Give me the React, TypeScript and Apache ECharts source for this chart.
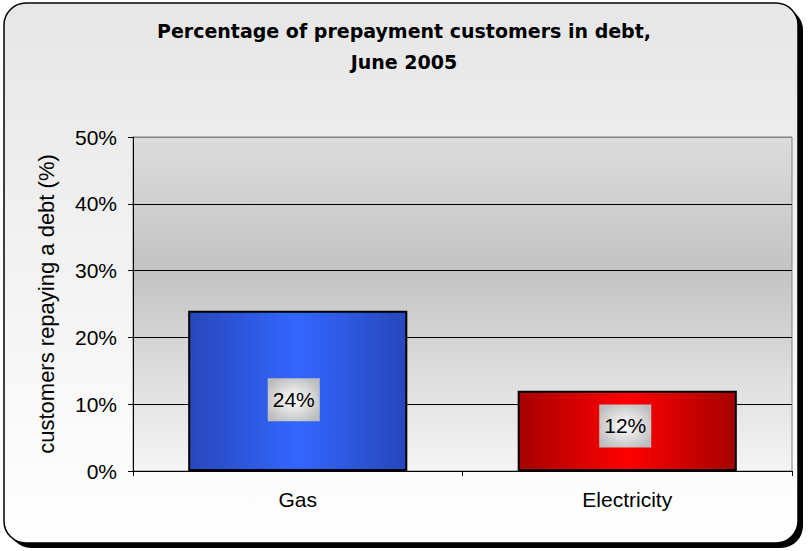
import React, { useEffect, useRef } from "react";
import * as echarts from "echarts";

const titleLines = ["Percentage of prepayment customers in debt,", "June 2005"];
const categories = ["Gas", "Electricity"];
const values = [24, 12];
const yTicks = [0, 10, 20, 30, 40, 50];
const yAxisName = "customers repaying a debt (%)";

const barGradients = [
  ["#2747bb", "#3366ff", "#2747bb"],
  ["#a60000", "#ff0000", "#a60000"],
];
const labelOffsets = [
  [-4, 9],
  [-2, -5],
];

export default function App() {
  const ref = useRef<HTMLDivElement>(null);
  useEffect(() => {
    if (!ref.current) return;
    const chart = echarts.init(ref.current, null, { renderer: "svg" });
    const option: any = {
      animation: false,
      graphic: [
        {
          type: "rect",
          z: -100,
          shape: { x: 9, y: 8, width: 794, height: 540, r: 22 },
          style: { fill: "#000" },
          silent: true,
        },
        {
          type: "rect",
          z: -99,
          shape: { x: 4, y: 3, width: 794, height: 540, r: 22 },
          style: {
            fill: new echarts.graphic.LinearGradient(0, 0, 0, 1, [
              { offset: 0, color: "#e6e6e6" },
              { offset: 1, color: "#ffffff" },
            ]),
            stroke: "#000",
            lineWidth: 1.5,
          },
          silent: true,
        },
      ],
      title: {
        text: titleLines.join("\n"),
        left: "center",
        top: 10,
        textStyle: {
          fontFamily: "DejaVu Sans",
          fontWeight: "bold",
          fontSize: 19,
          lineHeight: 31,
          color: "#000",
        },
      },
      grid: {
        left: 133,
        right: 16,
        top: 137,
        bottom: 80,
        show: true,
        borderColor: "#808080",
        borderWidth: 1,
        backgroundColor: new echarts.graphic.LinearGradient(0, 0, 0, 1, [
          { offset: 0, color: "#dcdcdc" },
          { offset: 0.4, color: "#c3c3c3" },
          { offset: 1, color: "#f5f5f5" },
        ]),
      },
      xAxis: {
        type: "category",
        data: categories,
        axisLine: { show: true, lineStyle: { color: "#000", width: 1 } },
        axisTick: { show: true, length: 5, alignWithLabel: false, lineStyle: { color: "#000" } },
        axisLabel: {
          margin: 18,
          fontFamily: "Liberation Sans",
          fontSize: 21,
          color: "#000",
        },
      },
      yAxis: {
        type: "value",
        min: yTicks[0],
        max: yTicks[yTicks.length - 1],
        interval: yTicks[1] - yTicks[0],
        name: yAxisName,
        nameLocation: "middle",
        nameRotate: 90,
        nameGap: 76,
        nameTextStyle: {
          fontFamily: "Liberation Sans",
          fontSize: 22,
          color: "#000",
        },
        axisLine: { show: true, lineStyle: { color: "#000", width: 1 } },
        axisTick: { show: true, length: 5, lineStyle: { color: "#000" } },
        axisLabel: {
          margin: 16,
          formatter: "{value}%",
          fontFamily: "Liberation Sans",
          fontSize: 21,
          color: "#000",
        },
        splitLine: {
          show: true,
          lineStyle: {
            color: ["#000", "#000", "#000", "#000", "#000", "#808080"],
            width: 1,
          },
        },
      },
      series: [
        {
          type: "bar",
          barWidth: "66.5%",
          data: values.map((v, i) => ({
            value: v,
            itemStyle: {
              color: new echarts.graphic.LinearGradient(0, 0, 1, 0, [
                { offset: 0, color: barGradients[i][0] },
                { offset: 0.5, color: barGradients[i][1] },
                { offset: 1, color: barGradients[i][2] },
              ]),
              borderColor: "#000",
              borderWidth: 2,
            },
            label: { offset: labelOffsets[i] },
          })),
          label: {
            show: true,
            position: "inside",
            formatter: "{c}%",
            fontFamily: "Liberation Sans",
            fontSize: 21,
            lineHeight: 21,
            color: "#000",
            padding: [11, 5, 11, 5],
            backgroundColor: new echarts.graphic.RadialGradient(0.5, 0.5, 0.6, [
              { offset: 0, color: "#ffffff" },
              { offset: 1, color: "#bcbcbc" },
            ]),
          },
        },
      ],
    };
    chart.setOption(option);
    return () => chart.dispose();
  }, []);
  return (
    <div
      ref={ref}
      style={{ position: "absolute", left: 0, top: 0, width: 808, height: 551 }}
    />
  );
}
